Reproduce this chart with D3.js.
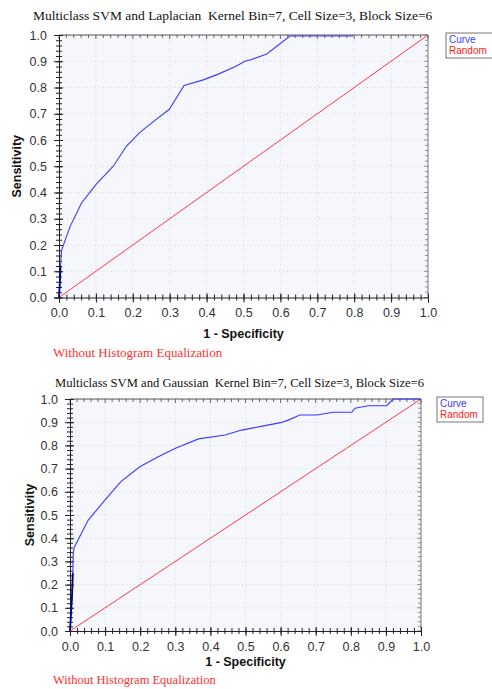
<!DOCTYPE html>
<html><head><meta charset="utf-8">
<script src="https://cdn.jsdelivr.net/npm/d3@7"></script>
<style>body{margin:0;background:#fff}svg{display:block}</style>
</head><body>
<script>
// Data
const ticks = [0,0.1,0.2,0.3,0.4,0.5,0.6,0.7,0.8,0.9,1.0];
const laplacianFPR = [0,0.002,0.004,0.007,0.03,0.061,0.10,0.147,0.183,0.22,0.26,0.299,0.339,0.391,0.43,0.477,0.504,0.522,0.563,0.626,0.70,0.797];
const laplacianTPR = [0,0.05,0.12,0.18,0.27,0.36,0.43,0.50,0.577,0.63,0.675,0.717,0.808,0.829,0.85,0.879,0.900,0.907,0.928,0.996,0.996,0.996];
const gaussianFPR = [0,0.003,0.006,0.008,0.0095,0.012,0.052,0.10,0.145,0.199,0.25,0.299,0.366,0.442,0.489,0.541,0.60,0.622,0.655,0.703,0.75,0.803,0.812,0.85,0.902,0.921,1.0];
const gaussianTPR = [0,0.08,0.16,0.25,0.342,0.36,0.478,0.565,0.644,0.708,0.75,0.787,0.828,0.845,0.866,0.881,0.898,0.909,0.931,0.931,0.943,0.943,0.96,0.971,0.971,1.0,1.0];
const randomFPR = [0,1];
const randomTPR = [0,1];
const titles = ["Multiclass SVM and Laplacian  Kernel Bin=7, Cell Size=3, Block Size=6",
                "Multiclass SVM and Gaussian  Kernel Bin=7, Cell Size=3, Block Size=6"];
const captions = ["Without Histogram Equalization","Without Histogram Equalization"];
const legendLabels = ["Curve","Random"];

const svg = d3.select("body").append("svg").attr("width",492).attr("height",689);

function chart(cfg){
  const g = svg.append("g");
  const x = d3.scaleLinear().domain([0,1]).range([cfg.x0,cfg.x1]);
  const y = d3.scaleLinear().domain([0,1]).range([cfg.y0,cfg.y1]);
  // title
  g.append("text").attr("x",cfg.titleX).attr("y",cfg.titleY)
    .attr("font-family","Liberation Serif, Times New Roman, serif").attr("font-size",cfg.titleSize).attr("fill","#111")
    .style("white-space","pre").text(cfg.title);
  // plot bg
  g.append("rect").attr("x",cfg.x0).attr("y",cfg.y1).attr("width",cfg.x1-cfg.x0).attr("height",cfg.y0-cfg.y1)
    .attr("fill","#f6f7fd");
  // grid
  const grid = ticks.slice(1,-1);
  g.selectAll(null).data(grid).enter().append("line")
    .attr("x1",d=>x(d)).attr("x2",d=>x(d)).attr("y1",cfg.y0).attr("y2",cfg.y1)
    .attr("stroke","#c8c8d0").attr("stroke-width",0.8).attr("stroke-dasharray","1,3");
  g.selectAll(null).data(grid).enter().append("line")
    .attr("y1",d=>y(d)).attr("y2",d=>y(d)).attr("x1",cfg.x0).attr("x2",cfg.x1)
    .attr("stroke","#c8c8d0").attr("stroke-width",0.8).attr("stroke-dasharray","1,3");
  // border top/right
  g.append("line").attr("x1",cfg.x0).attr("x2",cfg.x1).attr("y1",cfg.y1).attr("y2",cfg.y1).attr("stroke","#555");
  g.append("line").attr("x1",cfg.x1).attr("x2",cfg.x1).attr("y1",cfg.y1).attr("y2",cfg.y0).attr("stroke","#777");
  const minor = d3.range(0,51).map(i=>i/50);
  // top / right inward ticks
  g.selectAll(null).data(minor).enter().append("line")
    .attr("x1",d=>x(d)).attr("x2",d=>x(d)).attr("y1",cfg.y1).attr("y2",d=>cfg.y1+((Math.round(d*50)%5===0)?4:3))
    .attr("stroke","#444").attr("stroke-width",0.8);
  g.selectAll(null).data(minor).enter().append("line")
    .attr("y1",d=>y(d)).attr("y2",d=>y(d)).attr("x1",cfg.x1).attr("x2",d=>cfg.x1-((Math.round(d*50)%5===0)?4:3))
    .attr("stroke","#777").attr("stroke-width",0.8);
  // axes
  g.append("g").attr("transform",`translate(0,${cfg.y0})`)
    .call(d3.axisBottom(x).tickValues(minor).tickSize(3).tickFormat(""))
    .call(a=>a.selectAll("line").attr("y1",-3).attr("stroke","#222"))
    .call(a=>a.select(".domain").remove());
  g.append("g").attr("transform",`translate(0,${cfg.y0})`)
    .call(d3.axisBottom(x).tickValues(ticks).tickSize(5).tickPadding(6).tickFormat(d3.format(".1f")))
    .call(a=>a.selectAll("line").attr("y1",-4).attr("stroke","#222"))
    .call(a=>a.select(".domain").attr("stroke","#222"))
    .call(a=>a.selectAll("text").attr("font-family","Liberation Sans, Arial, sans-serif").attr("font-size",12.5).attr("fill","#333"));
  g.append("g").attr("transform",`translate(${cfg.x0},0)`)
    .call(d3.axisLeft(y).tickValues(minor).tickSize(3).tickFormat(""))
    .call(a=>a.selectAll("line").attr("x1",3).attr("stroke","#222"))
    .call(a=>a.select(".domain").remove());
  g.append("g").attr("transform",`translate(${cfg.x0},0)`)
    .call(d3.axisLeft(y).tickValues(ticks).tickSize(5).tickPadding(7).tickFormat(d3.format(".1f")))
    .call(a=>a.selectAll("line").attr("x1",4).attr("stroke","#222"))
    .call(a=>a.select(".domain").attr("stroke","#222"))
    .call(a=>a.selectAll("text").attr("font-family","Liberation Sans, Arial, sans-serif").attr("font-size",12.5).attr("fill","#333"));
  // lines
  const line = d3.line().x(d=>x(d[0])).y(d=>y(d[1]));
  g.append("path").datum(d3.zip(randomFPR,randomTPR)).attr("d",line).attr("fill","none").attr("stroke","#ff3a3a").attr("stroke-width",1);
  g.append("path").datum(d3.zip(cfg.fpr,cfg.tpr)).attr("d",line).attr("fill","none").attr("stroke","#3a3aff").attr("stroke-width",1.1);
  // steep start emphasis
  g.append("path").datum(d3.zip(cfg.fpr,cfg.tpr).filter(d=>d[1]<=cfg.darkTo)).attr("d",line).attr("fill","none").attr("stroke","#00008b").attr("stroke-width",1.8);
  // axis labels
  g.append("text").attr("x",(cfg.x0+cfg.x1)/2).attr("y",cfg.xlabY).attr("text-anchor","middle")
    .attr("font-family","Liberation Sans, Arial, sans-serif").attr("font-weight","bold").attr("font-size",12.5).attr("fill","#111").text("1 - Specificity");
  g.append("text").attr("transform",`translate(${cfg.ylabX},${(cfg.y0+cfg.y1)/2}) rotate(-90)`).attr("text-anchor","middle")
    .attr("font-family","Liberation Sans, Arial, sans-serif").attr("font-weight","bold").attr("font-size",12.5).attr("fill","#111").text("Sensitivity");
  // legend
  const lg = g.append("g").attr("transform",`translate(${cfg.legX},${cfg.legY})`);
  lg.append("rect").attr("width",cfg.legW).attr("height",cfg.legH).attr("fill","#fff").attr("stroke","#555").attr("stroke-width",0.8);
  lg.selectAll(null).data(legendLabels).enter().append("text")
    .attr("x",3).attr("y",(d,i)=>10+i*11).attr("font-family","Liberation Sans, Arial, sans-serif").attr("font-size",10)
    .attr("fill",(d,i)=>i===0?"#4040ff":"#ff2020").text(d=>d);
  // caption
  g.append("text").attr("x",cfg.capX).attr("y",cfg.capY)
    .attr("font-family","Liberation Serif, Times New Roman, serif").attr("font-size",cfg.capSize).attr("fill","#ff3030").text(cfg.caption);
}

chart({x0:59,x1:428,y0:297.5,y1:35,title:titles[0],titleX:33,titleY:20,titleSize:13.5,fpr:laplacianFPR,tpr:laplacianTPR,darkTo:0.12,
  xlabY:338,ylabX:21,legX:446,legY:33,legW:50,legH:25,caption:captions[0],capX:53,capY:357,capSize:13});
chart({x0:70,x1:421,y0:631,y1:399,title:titles[1],titleX:55,titleY:387,titleSize:12.6,fpr:gaussianFPR,tpr:gaussianTPR,darkTo:0.3,
  xlabY:666,ylabX:34,legX:437,legY:397,legW:46,legH:25,caption:captions[1],capX:53,capY:684,capSize:12.5});
</script>
</body></html>
